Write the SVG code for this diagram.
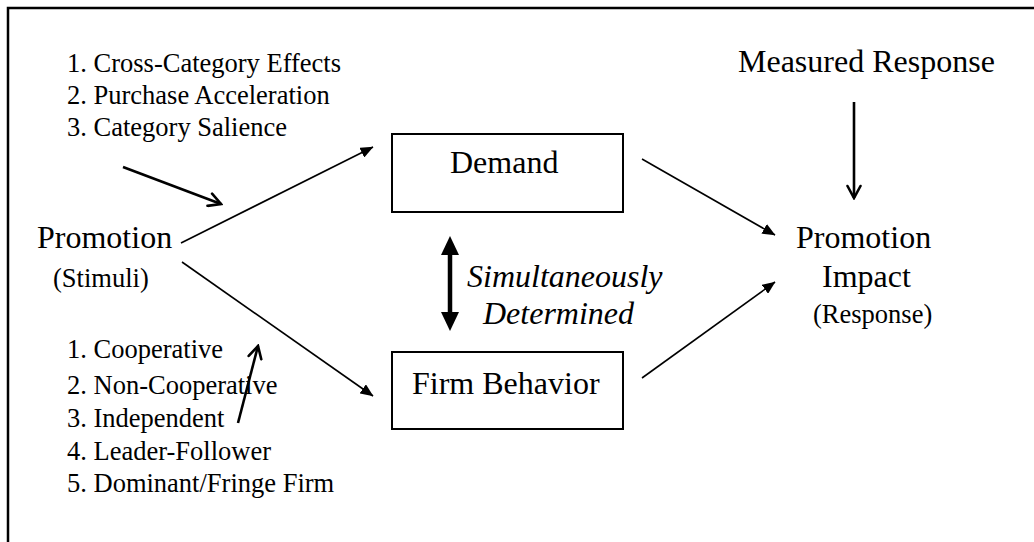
<svg xmlns="http://www.w3.org/2000/svg" width="1034" height="542" viewBox="0 0 1034 542">
<style>
.big{font-size:32px}
.sm{font-size:26.5px}
.it{font-size:32px;font-style:italic}
.box{fill:#fff;stroke:#000;stroke-width:2}
.thin{fill:none;stroke:#000;stroke-width:1.6}
.thick{fill:none;stroke:#000;stroke-width:2.6}
</style>
<defs>
<marker id="fa" viewBox="0 0 13 11" refX="12.5" refY="5.5" markerWidth="13" markerHeight="11" markerUnits="userSpaceOnUse" orient="auto">
<path d="M0,0 L13,5.5 L0,11 z" fill="#000"/>
</marker>
<marker id="oa" viewBox="0 0 16 16" refX="14" refY="8" markerWidth="16" markerHeight="16" markerUnits="userSpaceOnUse" orient="auto">
<path d="M2,1.5 L14,8 L2,14.5" fill="none" stroke="#000" stroke-width="2.6" stroke-linecap="round" stroke-linejoin="miter"/>
</marker>
</defs>
<rect x="0" y="0" width="1034" height="542" fill="#fff"/>
<rect x="8" y="8" width="1040" height="560" fill="none" stroke="#000" stroke-width="2.5"/>

<g font-family="'Liberation Serif', 'Times New Roman', Tinos, 'DejaVu Serif', serif" fill="#000">
<g id="promotion">
<text class="big" x="37" y="248">Promotion</text>
<text class="sm" x="53" y="287">(Stimuli)</text>
</g>
<g id="demand-factors">
<text class="sm" x="67" y="72">1. Cross-Category Effects</text>
<text class="sm" x="67" y="104">2. Purchase Acceleration</text>
<text class="sm" x="67" y="136">3. Category Salience</text>
</g>
<g id="firm-factors">
<text class="sm" x="67" y="358">1. Cooperative</text>
<text class="sm" x="67" y="394">2. Non-Cooperative</text>
<text class="sm" x="67" y="427">3. Independent</text>
<text class="sm" x="67" y="460">4. Leader-Follower</text>
<text class="sm" x="67" y="492">5. Dominant/Fringe Firm</text>
</g>
<g id="demand">
<rect class="box" x="392" y="134" width="231" height="78"/>
<text class="big" x="450" y="173">Demand</text>
</g>
<g id="firm-behavior">
<rect class="box" x="392" y="352" width="231" height="77"/>
<text class="big" x="412" y="394">Firm Behavior</text>
</g>
<g id="simultaneous">
<text class="it" x="467" y="287">Simultaneously</text>
<text class="it" x="483" y="324">Determined</text>
</g>
<g id="measured-response">
<text class="big" x="738" y="72">Measured Response</text>
</g>
<g id="promotion-impact">
<text class="big" x="796" y="248">Promotion</text>
<text class="big" x="822" y="287">Impact</text>
<text class="sm" x="813" y="323">(Response)</text>
</g>
</g>

<g id="connectors">
<line class="thin" x1="181" y1="243" x2="373" y2="147" marker-end="url(#fa)"/>
<line class="thin" x1="182" y1="262" x2="373" y2="396" marker-end="url(#fa)"/>
<line class="thin" x1="642" y1="159" x2="775" y2="235" marker-end="url(#fa)"/>
<line class="thin" x1="642" y1="378" x2="775" y2="282" marker-end="url(#fa)"/>
<line class="thick" x1="123" y1="167" x2="221" y2="204" marker-end="url(#oa)"/>
<line class="thick" x1="238" y1="423" x2="258" y2="346" marker-end="url(#oa)"/>
<line class="thick" x1="854" y1="102" x2="854" y2="198" marker-end="url(#oa)"/>
<line x1="450" y1="250" x2="450" y2="317" stroke="#000" stroke-width="4.5"/>
<polygon points="450,236 441,255 459,255" fill="#000"/>
<polygon points="450,331 441,312 459,312" fill="#000"/>
</g>
</svg>
